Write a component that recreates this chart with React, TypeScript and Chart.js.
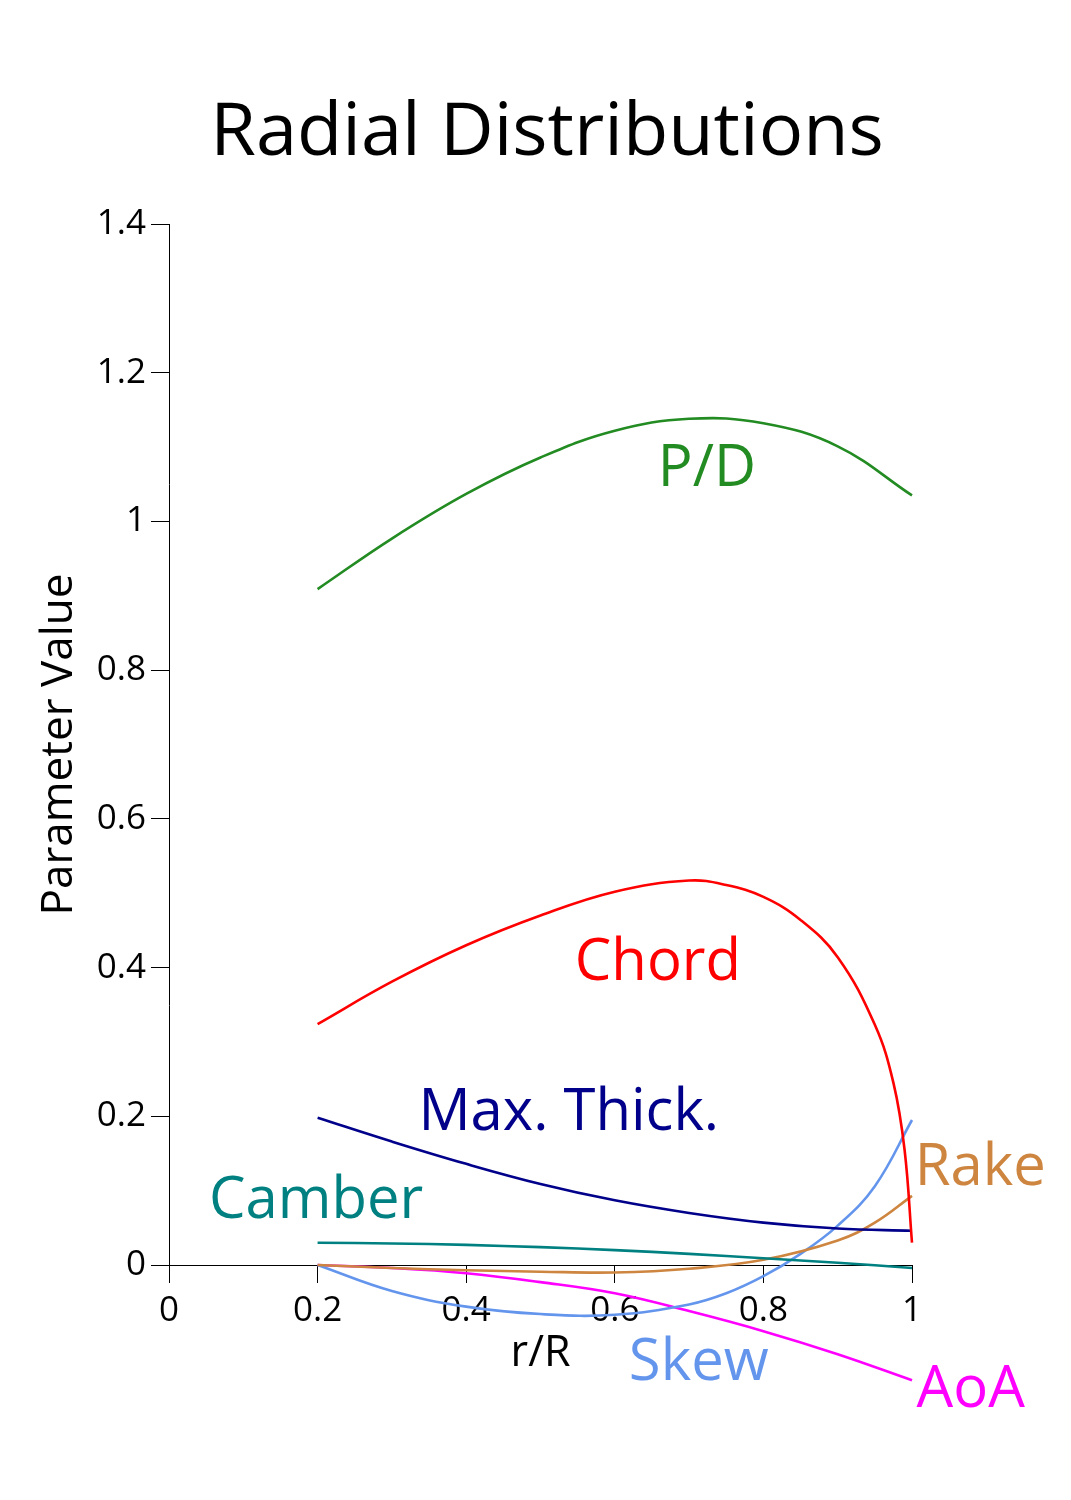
import React, { useEffect, useRef } from "react";
import { Chart, registerables } from "chart.js";

Chart.register(...registerables);

const FONT = "'Open Sans', 'Noto Sans', 'DejaVu Sans', sans-serif";

// ---- data ----
const seriesNames = ["P/D", "Chord", "Max. Thick.", "Camber", "Rake", "Skew", "AoA"];
const seriesColors = ["#228B22", "#FF0000", "#00008B", "#008080", "#CD853F", "#6495ED", "#FF00FF"];

const pdR = [0.2, 0.3, 0.4, 0.5, 0.6, 0.7, 0.8, 0.9, 1.0];
const pdValues = [0.909, 0.977, 1.037, 1.086, 1.122, 1.138, 1.132, 1.101, 1.035];

const chordR = [0.2, 0.3, 0.4, 0.5, 0.6, 0.7, 0.75, 0.8, 0.85, 0.9, 0.95, 0.975, 0.99, 1.0];
const chordValues = [0.324, 0.381, 0.430, 0.470, 0.502, 0.517, 0.511, 0.495, 0.464, 0.414, 0.323, 0.245, 0.155, 0.03];

const thickR = [0.2, 0.3, 0.4, 0.5, 0.6, 0.7, 0.8, 0.9, 1.0];
const thickValues = [0.198, 0.166, 0.136, 0.109, 0.087, 0.070, 0.057, 0.049, 0.046];

const camberR = [0.2, 0.3, 0.4, 0.5, 0.6, 0.7, 0.8, 0.9, 1.0];
const camberValues = [0.030, 0.029, 0.027, 0.024, 0.020, 0.015, 0.009, 0.003, -0.004];

const rakeR = [0.2, 0.3, 0.4, 0.5, 0.6, 0.7, 0.8, 0.9, 0.95, 1.0];
const rakeValues = [0.0, -0.004, -0.007, -0.009, -0.010, -0.005, 0.007, 0.033, 0.057, 0.093];

const skewR = [0.2, 0.3, 0.4, 0.5, 0.6, 0.7, 0.75, 0.8, 0.85, 0.9, 0.95, 1.0];
const skewValues = [0.0, -0.035, -0.056, -0.066, -0.067, -0.053, -0.038, -0.015, 0.015, 0.053, 0.106, 0.195];

const aoaR = [0.2, 0.3, 0.4, 0.5, 0.6, 0.7, 0.8, 0.9, 1.0];
const aoaValues = [0.0, -0.004, -0.011, -0.023, -0.038, -0.062, -0.089, -0.120, -0.155];

// label anchors (data coordinates: r/R, value) for the curve names
const labelR = [0.724, 0.658, 0.538, 0.198, 1.092, 0.713, 1.079];
const labelValues = [1.048, 0.383, 0.181, 0.063, 0.1075, -0.155, -0.191];

const seriesR = [pdR, chordR, thickR, camberR, rakeR, skewR, aoaR];
const seriesValues = [pdValues, chordValues, thickValues, camberValues, rakeValues, skewValues, aoaValues];

const seriesLabelPlugin = {
  id: "seriesLabels",
  afterDatasetsDraw(chart: any) {
    const { ctx } = chart;
    const x = chart.scales.x;
    const y = chart.scales.y;
    ctx.save();
    ctx.font = `58px ${FONT}`;
    ctx.textAlign = "center";
    ctx.textBaseline = "alphabetic";
    seriesNames.forEach((name, i) => {
      ctx.fillStyle = seriesColors[i];
      ctx.fillText(name, x.getPixelForValue(labelR[i]), y.getPixelForValue(labelValues[i]));
    });
    ctx.restore();
  },
};

const fmt = (v: any) => String(Math.round(Number(v) * 10) / 10);

export default function App() {
  const canvasRef = useRef<HTMLCanvasElement | null>(null);

  useEffect(() => {
    if (!canvasRef.current) return;
    const datasets = seriesNames.map((name, i) => ({
      label: name,
      data: seriesR[i].map((r, j) => ({ x: r, y: seriesValues[i][j] })),
      borderColor: seriesColors[i],
      backgroundColor: seriesColors[i],
      borderWidth: 2.6,
      pointRadius: 0,
      fill: false,
      tension: 0.4,
      clip: false as any,
    }));

    const chart = new Chart(canvasRef.current, {
      type: "line",
      data: { datasets },
      options: {
        animation: false,
        responsive: false,
        layout: { padding: { left: 23, right: 0, top: 0, bottom: 0 } },
        plugins: {
          legend: { display: false },
          tooltip: { enabled: false },
          title: {
            display: true,
            text: "Radial Distributions",
            color: "#000",
            font: { family: FONT, size: 74, weight: "normal", lineHeight: 1 },
            padding: { top: 97, bottom: 53 },
          },
        },
        scales: {
          x: {
            type: "linear",
            min: 0,
            max: 1,
            ticks: {
              stepSize: 0.2,
              color: "#000",
              font: { family: FONT, size: 35 },
              padding: 7,
              maxRotation: 0,
              autoSkip: false,
              callback: fmt,
            },
            grid: { drawOnChartArea: false, drawTicks: true, tickLength: 18, color: "#000", lineWidth: 1 },
            border: { display: true, color: "#000", width: 1 },
            title: {
              display: true,
              text: "r/R",
              color: "#000",
              font: { family: FONT, size: 43 },
              padding: { top: 0, bottom: 120 },
            },
            afterFit: (s: any) => {
              s.height = 235;
            },
          },
          y: {
            type: "linear",
            min: 0,
            max: 1.4,
            ticks: {
              stepSize: 0.2,
              color: "#000",
              font: { family: FONT, size: 35 },
              padding: 5,
              callback: fmt,
            },
            grid: { drawOnChartArea: false, drawTicks: true, tickLength: 18, color: "#000", lineWidth: 1 },
            border: { display: true, color: "#000", width: 1 },
            title: {
              display: true,
              text: "Parameter Value",
              color: "#000",
              font: { family: FONT, size: 44 },
              padding: { top: 10, bottom: 0 },
            },
            afterFit: (s: any) => {
              s.width = 146;
            },
          },
          y2: {
            type: "linear",
            position: "right",
            display: true,
            grid: { display: false, drawTicks: false },
            border: { display: false },
            ticks: { display: false },
            afterFit: (s: any) => {
              s.width = 159;
            },
          },
        },
      },
      plugins: [seriesLabelPlugin],
    });

    return () => {
      chart.destroy();
    };
  }, []);

  return (
    <div style={{ position: "absolute", left: 0, top: 0, width: 1071, height: 1500, background: "#fff" }}>
      <canvas ref={canvasRef} width={1071} height={1500} style={{ display: "block" }} />
    </div>
  );
}
